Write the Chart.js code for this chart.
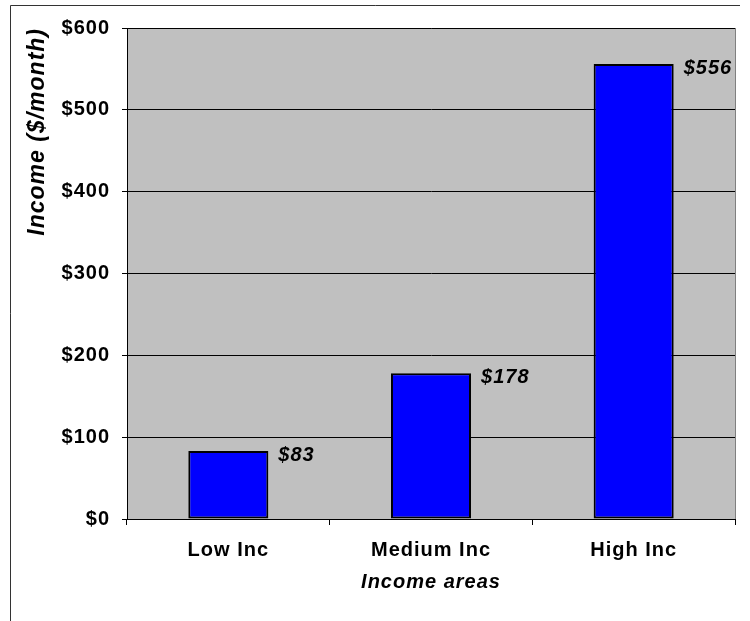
<!DOCTYPE html>
<html lang="en">
<head>
<meta charset="UTF-8">
<title>Income by area</title>
<script src="https://cdn.jsdelivr.net/npm/chart.js"></script>
<style>
  html, body { margin: 0; padding: 0; background: #fff; }
  #wrap { width: 750px; height: 621px; }
</style>
</head>
<body>
<div id="wrap"><canvas id="chart" width="750" height="621"></canvas></div>
<script>
  const categories = ['Low Inc', 'Medium Inc', 'High Inc'];
  const incomes = [83, 178, 556];
  const yTicks = [0, 100, 200, 300, 400, 500, 600];

  const FONT = 'Arial, "Liberation Sans", sans-serif';

  // excel-ish text is a bit spaced out
  const spacing = {
    id: 'spacing',
    beforeLayout(chart) { chart.ctx.letterSpacing = '1px'; },
    beforeDraw(chart) { chart.ctx.letterSpacing = '1px'; }
  };

  // gray plot area + outer frame (top and left edges only)
  const frame = {
    id: 'frame',
    beforeDraw(chart) {
      const c = chart.ctx, a = chart.chartArea;
      c.save();
      c.fillStyle = '#fff';
      c.fillRect(0, 0, chart.width, chart.height);
      c.strokeStyle = '#333';
      c.lineWidth = 1;
      c.beginPath();
      c.moveTo(10.5, chart.height);
      c.lineTo(10.5, 5.5);
      c.lineTo(740, 5.5);
      c.stroke();
      c.fillStyle = '#C0C0C0';
      c.fillRect(a.left, a.top, a.right - a.left, a.bottom - a.top);
      c.strokeStyle = '#808080';
      c.strokeRect(a.left + 0.5, a.top + 0.5, a.right - a.left, a.bottom - a.top);
      c.restore();
    }
  };

  // value labels next to the top right corner of each bar
  const valueLabels = {
    id: 'valueLabels',
    afterDatasetsDraw(chart) {
      const c = chart.ctx;
      const meta = chart.getDatasetMeta(0);
      c.save();
      c.letterSpacing = '1px';
      c.font = 'italic bold 20px ' + FONT;
      c.fillStyle = '#000';
      c.textBaseline = 'middle';
      c.textAlign = 'left';
      meta.data.forEach((bar, i) => {
        c.fillText('$' + incomes[i], bar.x + bar.width / 2 + 10, bar.y + 4);
      });
      c.restore();
    }
  };

  new Chart(document.getElementById('chart'), {
    type: 'bar',
    data: {
      labels: categories,
      datasets: [{
        data: incomes,
        backgroundColor: '#0000FF',
        borderColor: '#000',
        borderWidth: 2,
        borderSkipped: false,
        categoryPercentage: 1,
        barPercentage: 0.395
      }]
    },
    options: {
      responsive: false,
      animation: false,
      layout: { padding: { left: 10, top: 28, right: 15, bottom: 0 } },
      plugins: {
        legend: { display: false },
        tooltip: { enabled: false }
      },
      scales: {
        x: {
          offset: true,
          grid: {
            offset: true,
            drawOnChartArea: false,
            drawTicks: true,
            tickLength: 6,
            color: '#000'
          },
          border: { color: '#000', width: 1 },
          ticks: {
            color: '#000',
            padding: 13,
            font: { family: FONT, size: 20, weight: 'bold' }
          },
          title: {
            display: true,
            text: 'Income areas',
            color: '#000',
            padding: { top: 0, bottom: 27 },
            font: { family: FONT, size: 20, weight: 'bold', style: 'italic' }
          },
          afterFit(scale) { scale.height = 102; }
        },
        y: {
          min: 0,
          max: 600,
          afterBuildTicks(scale) { scale.ticks = yTicks.map(v => ({ value: v })); },
          grid: {
            color: '#000',
            tickLength: 5,
            drawTicks: true
          },
          border: { color: '#000', width: 1 },
          ticks: {
            color: '#000',
            padding: 12,
            font: { family: FONT, size: 20, weight: 'bold' },
            callback: v => '$' + v
          },
          title: {
            display: true,
            text: 'Income ($/month)',
            align: 'end',
            color: '#000',
            padding: { top: 14 },
            font: { family: FONT, size: 23, weight: 'bold', style: 'italic' }
          },
          afterFit(scale) { scale.width = 117; }
        }
      }
    },
    plugins: [spacing, frame, valueLabels]
  });
</script>
</body>
</html>
